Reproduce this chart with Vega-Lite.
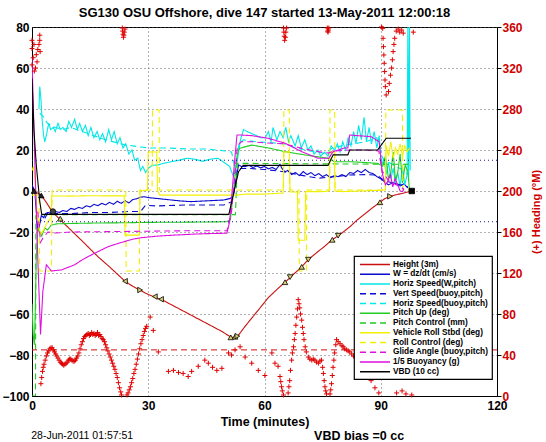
{
"$schema":"https://vega.github.io/schema/vega-lite/v6.json",
"width":465,"height":369,
"autosize":{"type":"none"},
"padding":{"left":32,"top":27,"right":49,"bottom":46},
"background":"white",
"title":{"text":"SG130 OSU Offshore, dive 147 started 13-May-2011 12:00:18","fontSize":13,"fontWeight":"bold","font":"Liberation Sans","color":"black","frame":"group","anchor":"middle","offset":1},
"datasets":{
"names":[
{"s":"h","name":"Height (3m)"},{"s":"w","name":"W = dz/dt (cm/s)"},{"s":"hs","name":"Horiz Speed(W,pitch)"},{"s":"vs","name":"Vert Speed(buoy,pitch)"},{"s":"hb","name":"Horiz Speed(buoy,pitch)"},{"s":"pu","name":"Pitch Up (deg)"},{"s":"pc","name":"Pitch Control (mm)"},{"s":"vr","name":"Vehicle Roll Stbd (deg)"},{"s":"rc","name":"Roll Control (deg)"},{"s":"ga","name":"Glide Angle (buoy,pitch)"},{"s":"bu","name":"1/5 Buoyancy (g)"},{"s":"vbd","name":"VBD (10 cc)"}],
"series":[
{"s":"h","t":0,"v":0},{"s":"h","t":1.5,"v":-1},{"s":"h","t":2.4,"v":-2.2},{"s":"h","t":3.5,"v":-5},{"s":"h","t":5.2,"v":-10},{"s":"h","t":7,"v":-13.5},{"s":"h","t":10,"v":-19},{"s":"h","t":13,"v":-24.5},{"s":"h","t":17,"v":-32},{"s":"h","t":20,"v":-37},{"s":"h","t":24,"v":-44},{"s":"h","t":26,"v":-46.5},{"s":"h","t":28,"v":-48.5},{"s":"h","t":30,"v":-50.5},{"s":"h","t":32,"v":-52},{"s":"h","t":34,"v":-53.5},{"s":"h","t":38,"v":-57.5},{"s":"h","t":42,"v":-61.5},{"s":"h","t":46,"v":-65.5},{"s":"h","t":49,"v":-68.5},{"s":"h","t":51.5,"v":-71.5},{"s":"h","t":53,"v":-71},{"s":"h","t":55,"v":-66},{"s":"h","t":58,"v":-59},{"s":"h","t":61,"v":-52},{"s":"h","t":63.5,"v":-47.5},{"s":"h","t":65.3,"v":-44.5},{"s":"h","t":67,"v":-41.5},{"s":"h","t":69.6,"v":-37},{"s":"h","t":71.3,"v":-33.5},{"s":"h","t":73.5,"v":-30},{"s":"h","t":75.5,"v":-27},{"s":"h","t":77.3,"v":-24},{"s":"h","t":79.3,"v":-21.5},{"s":"h","t":82,"v":-17.5},{"s":"h","t":84,"v":-14},{"s":"h","t":86,"v":-11},{"s":"h","t":88,"v":-8},{"s":"h","t":89.8,"v":-5.5},{"s":"h","t":91,"v":-3.8},{"s":"h","t":92.4,"v":-2.6},{"s":"h","t":94,"v":-1.8},{"s":"h","t":96,"v":-1},{"s":"h","t":98,"v":0},
{"s":"w","t":0,"v":3},{"s":"w","t":0.7,"v":0},{"s":"w","t":1.2,"v":-12},{"s":"w","t":1.5,"v":-20},{"s":"w","t":1.9,"v":-17},{"s":"w","t":2.4,"v":-12},{"s":"w","t":3,"v":-13},{"s":"w","t":3.5,"v":-11},{"s":"w","t":4.1,"v":-10.5},{"s":"w","t":5,"v":-11},{"s":"w","t":6,"v":-10},{"s":"w","t":7,"v":-10.5},{"s":"w","t":8,"v":-9.5},{"s":"w","t":9,"v":-10},{"s":"w","t":10,"v":-8.5},{"s":"w","t":11,"v":-9},{"s":"w","t":12,"v":-8},{"s":"w","t":13,"v":-8.5},{"s":"w","t":14,"v":-7.2},{"s":"w","t":15,"v":-7.8},{"s":"w","t":16,"v":-6.5},{"s":"w","t":17,"v":-7.2},{"s":"w","t":18,"v":-6},{"s":"w","t":19,"v":-6.8},{"s":"w","t":20,"v":-5.5},{"s":"w","t":21,"v":-6.5},{"s":"w","t":22,"v":-5},{"s":"w","t":23,"v":-6},{"s":"w","t":24,"v":-4.8},{"s":"w","t":25,"v":-5.8},{"s":"w","t":26,"v":-4.2},{"s":"w","t":27,"v":-3.8},{"s":"w","t":28,"v":-3},{"s":"w","t":29,"v":-2.8},{"s":"w","t":30,"v":-3.2},{"s":"w","t":32,"v":-3.6},{"s":"w","t":34,"v":-4},{"s":"w","t":36,"v":-4.4},{"s":"w","t":38,"v":-4.8},{"s":"w","t":41,"v":-5.2},{"s":"w","t":45,"v":-4.8},{"s":"w","t":49.5,"v":-4.4},{"s":"w","t":51.2,"v":-3.6},{"s":"w","t":52,"v":-2},{"s":"w","t":53.3,"v":12.7},{"s":"w","t":54,"v":12},{"s":"w","t":55,"v":11.9},{"s":"w","t":56,"v":12.5},{"s":"w","t":57,"v":11.5},{"s":"w","t":58,"v":12.2},{"s":"w","t":59,"v":11.3},{"s":"w","t":60,"v":12},{"s":"w","t":61,"v":10.8},{"s":"w","t":62,"v":11.5},{"s":"w","t":63,"v":10.5},{"s":"w","t":64,"v":13},{"s":"w","t":64.5,"v":11},{"s":"w","t":65.3,"v":9.4},{"s":"w","t":66,"v":10},{"s":"w","t":67,"v":8},{"s":"w","t":68,"v":9},{"s":"w","t":69,"v":7.5},{"s":"w","t":70,"v":9.5},{"s":"w","t":71,"v":8},{"s":"w","t":72,"v":9},{"s":"w","t":73,"v":7.5},{"s":"w","t":74,"v":8.5},{"s":"w","t":75,"v":7},{"s":"w","t":76,"v":8},{"s":"w","t":77,"v":6.5},{"s":"w","t":78,"v":7.5},{"s":"w","t":79,"v":7},{"s":"w","t":80,"v":8},{"s":"w","t":81,"v":7},{"s":"w","t":82,"v":9},{"s":"w","t":83,"v":8.5},{"s":"w","t":84,"v":10},{"s":"w","t":85,"v":9},{"s":"w","t":86,"v":10.5},{"s":"w","t":87,"v":9},{"s":"w","t":88,"v":8.5},{"s":"w","t":89,"v":7},{"s":"w","t":90,"v":6},{"s":"w","t":91,"v":4.5},{"s":"w","t":92,"v":3},{"s":"w","t":93,"v":4},{"s":"w","t":94,"v":3.5},{"s":"w","t":95,"v":2.5},{"s":"w","t":96,"v":3.5},{"s":"w","t":97,"v":1.5},
{"s":"hs","t":1.8,"v":40},{"s":"hs","t":2.0,"v":51},{"s":"hs","t":2.3,"v":45},{"s":"hs","t":2.6,"v":35},{"s":"hs","t":3,"v":27},{"s":"hs","t":3.3,"v":24},{"s":"hs","t":3.8,"v":28},{"s":"hs","t":4.3,"v":33},{"s":"hs","t":4.8,"v":30},{"s":"hs","t":5.5,"v":31},{"s":"hs","t":6,"v":29},{"s":"hs","t":6.7,"v":33},{"s":"hs","t":7.3,"v":30},{"s":"hs","t":8,"v":31},{"s":"hs","t":8.8,"v":29},{"s":"hs","t":9.5,"v":34},{"s":"hs","t":10.2,"v":31},{"s":"hs","t":11,"v":35},{"s":"hs","t":11.7,"v":30},{"s":"hs","t":12.3,"v":33},{"s":"hs","t":13,"v":29},{"s":"hs","t":13.8,"v":32},{"s":"hs","t":14.5,"v":27},{"s":"hs","t":15.2,"v":31},{"s":"hs","t":16,"v":26},{"s":"hs","t":16.8,"v":29},{"s":"hs","t":17.5,"v":25},{"s":"hs","t":18.2,"v":28},{"s":"hs","t":19,"v":24},{"s":"hs","t":19.8,"v":30},{"s":"hs","t":20.5,"v":25},{"s":"hs","t":21.2,"v":29},{"s":"hs","t":22,"v":23},{"s":"hs","t":22.7,"v":26},{"s":"hs","t":23.5,"v":21},{"s":"hs","t":24.2,"v":23},{"s":"hs","t":25,"v":18},{"s":"hs","t":25.8,"v":20},{"s":"hs","t":26.5,"v":15},{"s":"hs","t":27.3,"v":16},{"s":"hs","t":28,"v":10},{"s":"hs","t":28.6,"v":12},{"s":"hs","t":29.3,"v":9},{"s":"hs","t":30,"v":11},{"s":"hs","t":31,"v":12.5},{"s":"hs","t":32.5,"v":12.7},{"s":"hs","t":34,"v":13.5},{"s":"hs","t":36,"v":14.3},{"s":"hs","t":38,"v":15},{"s":"hs","t":40,"v":16},{"s":"hs","t":42,"v":15.5},{"s":"hs","t":44,"v":14.5},{"s":"hs","t":46,"v":15.5},{"s":"hs","t":48,"v":16},{"s":"hs","t":49.5,"v":14},{"s":"hs","t":51,"v":12},{"s":"hs","t":52,"v":7},{"s":"hs","t":53,"v":15},{"s":"hs","t":53.8,"v":25},{"s":"hs","t":54.6,"v":30},{"s":"hs","t":55.5,"v":29},{"s":"hs","t":56.7,"v":28},{"s":"hs","t":58,"v":27},{"s":"hs","t":59,"v":26},{"s":"hs","t":60.2,"v":26},{"s":"hs","t":61,"v":29},{"s":"hs","t":61.7,"v":24},{"s":"hs","t":62.2,"v":31},{"s":"hs","t":63.2,"v":25},{"s":"hs","t":64,"v":29},{"s":"hs","t":64.8,"v":26},{"s":"hs","t":65.5,"v":31},{"s":"hs","t":66.2,"v":24},{"s":"hs","t":66.8,"v":27},{"s":"hs","t":67.9,"v":22},{"s":"hs","t":68.7,"v":27},{"s":"hs","t":69.5,"v":21},{"s":"hs","t":70.4,"v":25},{"s":"hs","t":71.2,"v":20},{"s":"hs","t":72,"v":22},{"s":"hs","t":72.8,"v":18},{"s":"hs","t":73.8,"v":20},{"s":"hs","t":74.5,"v":17},{"s":"hs","t":75.5,"v":19},{"s":"hs","t":76.4,"v":17},{"s":"hs","t":77.2,"v":22},{"s":"hs","t":78.1,"v":20},{"s":"hs","t":78.8,"v":23},{"s":"hs","t":79.5,"v":19},{"s":"hs","t":80.2,"v":24},{"s":"hs","t":80.9,"v":20},{"s":"hs","t":81.6,"v":26},{"s":"hs","t":82.3,"v":22},{"s":"hs","t":83,"v":29},{"s":"hs","t":83.6,"v":23},{"s":"hs","t":84.3,"v":32},{"s":"hs","t":85,"v":25},{"s":"hs","t":85.7,"v":36},{"s":"hs","t":86.3,"v":24},{"s":"hs","t":87,"v":31},{"s":"hs","t":87.6,"v":23},{"s":"hs","t":88.3,"v":29},{"s":"hs","t":89,"v":21},{"s":"hs","t":89.6,"v":27},{"s":"hs","t":90.2,"v":12},{"s":"hs","t":90.8,"v":16},{"s":"hs","t":91.4,"v":8},{"s":"hs","t":92,"v":14},{"s":"hs","t":92.6,"v":6},{"s":"hs","t":93.2,"v":11},{"s":"hs","t":93.8,"v":4},{"s":"hs","t":94.4,"v":9},{"s":"hs","t":95,"v":2},{"s":"hs","t":95.6,"v":12},{"s":"hs","t":96.2,"v":3},{"s":"hs","t":96.8,"v":8},{"s":"hs","t":97.0,"v":80},{"s":"hs","t":97.2,"v":5},{"s":"hs","t":97.4,"v":80},{"s":"hs","t":97.6,"v":10},
{"s":"vs","t":1.5,"v":-16.6},{"s":"vs","t":2.5,"v":-14},{"s":"vs","t":3.3,"v":-13.3},{"s":"vs","t":4,"v":-11},{"s":"vs","t":6,"v":-11},{"s":"vs","t":10,"v":-11},{"s":"vs","t":15,"v":-10.5},{"s":"vs","t":20,"v":-10.5},{"s":"vs","t":25,"v":-10},{"s":"vs","t":28,"v":-10},{"s":"vs","t":29.3,"v":-7},{"s":"vs","t":32,"v":-7.3},{"s":"vs","t":40,"v":-6.8},{"s":"vs","t":49.5,"v":-6.8},{"s":"vs","t":51.6,"v":-5.2},{"s":"vs","t":53,"v":11},{"s":"vs","t":56,"v":11},{"s":"vs","t":60,"v":10.5},{"s":"vs","t":65,"v":9.4},{"s":"vs","t":70,"v":7.5},{"s":"vs","t":73.8,"v":6.2},{"s":"vs","t":78,"v":7},{"s":"vs","t":82,"v":7.8},{"s":"vs","t":86,"v":8},{"s":"vs","t":89,"v":7.8},{"s":"vs","t":91,"v":5},{"s":"vs","t":93,"v":4},{"s":"vs","t":95,"v":3},{"s":"vs","t":97,"v":2},
{"s":"hb","t":2,"v":38},{"s":"hb","t":3,"v":36},{"s":"hb","t":4,"v":33},{"s":"hb","t":5,"v":32},{"s":"hb","t":6,"v":31},{"s":"hb","t":8,"v":30},{"s":"hb","t":10,"v":31},{"s":"hb","t":13,"v":29},{"s":"hb","t":16,"v":27},{"s":"hb","t":19,"v":25},{"s":"hb","t":22,"v":23.5},{"s":"hb","t":24,"v":22.5},{"s":"hb","t":26,"v":22},{"s":"hb","t":28,"v":21.5},{"s":"hb","t":30,"v":21},{"s":"hb","t":35,"v":21},{"s":"hb","t":40,"v":20.5},{"s":"hb","t":45,"v":20.5},{"s":"hb","t":50,"v":19.5},{"s":"hb","t":51.5,"v":19},{"s":"hb","t":52.5,"v":10},{"s":"hb","t":53.3,"v":22},{"s":"hb","t":54.5,"v":25},{"s":"hb","t":56,"v":24.5},{"s":"hb","t":58,"v":24},{"s":"hb","t":62,"v":23.5},{"s":"hb","t":65,"v":23},{"s":"hb","t":68,"v":21},{"s":"hb","t":70.5,"v":20},{"s":"hb","t":73,"v":19},{"s":"hb","t":75.6,"v":18.4},{"s":"hb","t":77.5,"v":21},{"s":"hb","t":80,"v":22},{"s":"hb","t":83,"v":23},{"s":"hb","t":86,"v":24},{"s":"hb","t":89,"v":26},{"s":"hb","t":90.5,"v":16},{"s":"hb","t":92,"v":14},{"s":"hb","t":94,"v":12},{"s":"hb","t":96,"v":10},{"s":"hb","t":97,"v":8},
{"s":"pu","t":0,"v":-55},{"s":"pu","t":0.3,"v":-70},{"s":"pu","t":0.6,"v":-75},{"s":"pu","t":0.8,"v":-62},{"s":"pu","t":1.1,"v":-33},{"s":"pu","t":1.5,"v":-18},{"s":"pu","t":2,"v":-20},{"s":"pu","t":2.5,"v":-22},{"s":"pu","t":3.3,"v":-18},{"s":"pu","t":4,"v":-19},{"s":"pu","t":5,"v":-16.6},{"s":"pu","t":6.5,"v":-16},{"s":"pu","t":11,"v":-15.8},{"s":"pu","t":17,"v":-15.6},{"s":"pu","t":23.8,"v":-15.5},{"s":"pu","t":30,"v":-15.3},{"s":"pu","t":40,"v":-15.2},{"s":"pu","t":50.3,"v":-15},{"s":"pu","t":51.2,"v":-14},{"s":"pu","t":53,"v":18},{"s":"pu","t":53.5,"v":20.8},{"s":"pu","t":56.7,"v":22.4},{"s":"pu","t":61,"v":21},{"s":"pu","t":65.3,"v":19.2},{"s":"pu","t":70.4,"v":17.6},{"s":"pu","t":76.4,"v":16},{"s":"pu","t":78,"v":14.3},{"s":"pu","t":82,"v":14.3},{"s":"pu","t":85,"v":14},{"s":"pu","t":89.2,"v":13.5},{"s":"pu","t":90.5,"v":12},{"s":"pu","t":91.2,"v":17},{"s":"pu","t":92,"v":6},{"s":"pu","t":92.6,"v":9},{"s":"pu","t":93.2,"v":19},{"s":"pu","t":93.8,"v":5},{"s":"pu","t":94.4,"v":9.4},{"s":"pu","t":95,"v":18},{"s":"pu","t":95.6,"v":4},{"s":"pu","t":96.3,"v":12.7},{"s":"pu","t":97,"v":9.4},{"s":"pu","t":97.5,"v":-1.5},
{"s":"pc","t":0,"v":-100},{"s":"pc","t":0.9,"v":-100},{"s":"pc","t":1.0,"v":-12},{"s":"pc","t":3,"v":-11.5},{"s":"pc","t":51,"v":-11.5},{"s":"pc","t":52.5,"v":-11.5},{"s":"pc","t":53,"v":13.5},{"s":"pc","t":97.5,"v":13},
{"s":"vr","t":0,"v":10},{"s":"vr","t":0.4,"v":12},{"s":"vr","t":0.8,"v":5},{"s":"vr","t":1.3,"v":-10},{"s":"vr","t":1.8,"v":-18},{"s":"vr","t":2.3,"v":-21},{"s":"vr","t":3,"v":-19},{"s":"vr","t":4,"v":-15},{"s":"vr","t":5,"v":-13},{"s":"vr","t":5.1,"v":-2.4},{"s":"vr","t":10,"v":-2.5},{"s":"vr","t":15,"v":-2.3},{"s":"vr","t":20,"v":-2.4},{"s":"vr","t":23.8,"v":-2.4},{"s":"vr","t":24,"v":-21.5},{"s":"vr","t":27.7,"v":-21.5},{"s":"vr","t":27.9,"v":0},{"s":"vr","t":29.8,"v":0.5},{"s":"vr","t":30,"v":19},{"s":"vr","t":32.2,"v":19},{"s":"vr","t":32.4,"v":0},{"s":"vr","t":33,"v":-2},{"s":"vr","t":40,"v":-2},{"s":"vr","t":45,"v":-2},{"s":"vr","t":53,"v":-2},{"s":"vr","t":55,"v":-1.5},{"s":"vr","t":60,"v":-1.5},{"s":"vr","t":64.8,"v":-1},{"s":"vr","t":65,"v":19},{"s":"vr","t":66.4,"v":19},{"s":"vr","t":66.6,"v":-0.5},{"s":"vr","t":68.5,"v":-0.5},{"s":"vr","t":68.7,"v":-24},{"s":"vr","t":70.4,"v":-24},{"s":"vr","t":70.6,"v":-0.3},{"s":"vr","t":75,"v":-0.3},{"s":"vr","t":76.7,"v":0},{"s":"vr","t":76.9,"v":19},{"s":"vr","t":78,"v":19},{"s":"vr","t":78.2,"v":0},{"s":"vr","t":80,"v":-0.3},{"s":"vr","t":85,"v":0},{"s":"vr","t":91.2,"v":0.5},{"s":"vr","t":91.4,"v":22},{"s":"vr","t":92,"v":17},{"s":"vr","t":92.6,"v":24},{"s":"vr","t":93.2,"v":16},{"s":"vr","t":93.8,"v":21},{"s":"vr","t":94.4,"v":18},{"s":"vr","t":95,"v":23},{"s":"vr","t":95.6,"v":17},{"s":"vr","t":96.2,"v":22},{"s":"vr","t":96.8,"v":19},{"s":"vr","t":97.4,"v":21},
{"s":"rc","t":0,"v":-2},{"s":"rc","t":1.8,"v":-2},{"s":"rc","t":2,"v":-39},{"s":"rc","t":5,"v":-39},{"s":"rc","t":5.2,"v":0.5},{"s":"rc","t":24.2,"v":0.5},{"s":"rc","t":24.3,"v":-39},{"s":"rc","t":27.7,"v":-39},{"s":"rc","t":27.8,"v":0.5},{"s":"rc","t":31,"v":0.5},{"s":"rc","t":31.1,"v":39.5},{"s":"rc","t":32.8,"v":39.5},{"s":"rc","t":32.9,"v":0.5},{"s":"rc","t":53,"v":0.5},{"s":"rc","t":64.9,"v":0.5},{"s":"rc","t":65,"v":39.5},{"s":"rc","t":66.4,"v":39.5},{"s":"rc","t":66.5,"v":0.5},{"s":"rc","t":68.9,"v":0.5},{"s":"rc","t":69,"v":-39},{"s":"rc","t":70.8,"v":-39},{"s":"rc","t":70.9,"v":0.5},{"s":"rc","t":76.8,"v":0.5},{"s":"rc","t":76.9,"v":39.5},{"s":"rc","t":78.1,"v":39.5},{"s":"rc","t":78.2,"v":0.5},{"s":"rc","t":91.2,"v":0.5},{"s":"rc","t":91.3,"v":39.5},{"s":"rc","t":95.6,"v":39.5},{"s":"rc","t":95.7,"v":0.5},{"s":"rc","t":97.5,"v":0.5},
{"s":"ga","t":1.5,"v":-10},{"s":"ga","t":2.2,"v":-25},{"s":"ga","t":2.8,"v":-23},{"s":"ga","t":4.1,"v":-20},{"s":"ga","t":6,"v":-20.5},{"s":"ga","t":10,"v":-20},{"s":"ga","t":20,"v":-19.8},{"s":"ga","t":30,"v":-19.6},{"s":"ga","t":40,"v":-19.4},{"s":"ga","t":50.3,"v":-19.4},{"s":"ga","t":51.5,"v":-10},{"s":"ga","t":53,"v":22},{"s":"ga","t":54,"v":24},{"s":"ga","t":56.7,"v":24},{"s":"ga","t":60,"v":23.5},{"s":"ga","t":65.3,"v":23},{"s":"ga","t":69.6,"v":20.8},{"s":"ga","t":73.8,"v":19.2},{"s":"ga","t":76.5,"v":18.5},{"s":"ga","t":78,"v":19.5},{"s":"ga","t":82,"v":20},{"s":"ga","t":86,"v":20},{"s":"ga","t":89.5,"v":19.5},{"s":"ga","t":90.3,"v":10},{"s":"ga","t":92,"v":5},{"s":"ga","t":94,"v":3},{"s":"ga","t":96,"v":1},
{"s":"bu","t":0,"v":65},{"s":"bu","t":0.7,"v":16},{"s":"bu","t":1.5,"v":-33},{"s":"bu","t":2.2,"v":-70},{"s":"bu","t":2.8,"v":-49},{"s":"bu","t":3.7,"v":-36},{"s":"bu","t":5,"v":-39},{"s":"bu","t":7.6,"v":-38.5},{"s":"bu","t":11,"v":-36},{"s":"bu","t":13,"v":-33.5},{"s":"bu","t":15.3,"v":-31.2},{"s":"bu","t":17,"v":-29.6},{"s":"bu","t":19.6,"v":-27.2},{"s":"bu","t":21.5,"v":-26},{"s":"bu","t":23.8,"v":-24.7},{"s":"bu","t":26,"v":-23.5},{"s":"bu","t":28.1,"v":-22.8},{"s":"bu","t":32.4,"v":-22},{"s":"bu","t":36,"v":-21.6},{"s":"bu","t":41,"v":-21.1},{"s":"bu","t":45,"v":-20.8},{"s":"bu","t":50.3,"v":-20.6},{"s":"bu","t":51,"v":-15},{"s":"bu","t":52.3,"v":15},{"s":"bu","t":52.9,"v":27.3},{"s":"bu","t":54,"v":27.3},{"s":"bu","t":56.7,"v":27},{"s":"bu","t":61,"v":25.7},{"s":"bu","t":65.3,"v":23.3},{"s":"bu","t":69.6,"v":19.2},{"s":"bu","t":73.8,"v":16},{"s":"bu","t":76.6,"v":16},{"s":"bu","t":77.7,"v":19.2},{"s":"bu","t":80.7,"v":21},{"s":"bu","t":81.5,"v":21},{"s":"bu","t":82,"v":27.3},{"s":"bu","t":87.5,"v":26.5},{"s":"bu","t":89.6,"v":24},{"s":"bu","t":90.2,"v":12},{"s":"bu","t":90.5,"v":7.8},{"s":"bu","t":91.2,"v":3},{"s":"bu","t":91.8,"v":4.6},{"s":"bu","t":92.5,"v":8},{"s":"bu","t":93.1,"v":2},{"s":"bu","t":93.7,"v":6},{"s":"bu","t":94.4,"v":3},{"s":"bu","t":95,"v":0},{"s":"bu","t":95.6,"v":-0.3},{"s":"bu","t":96,"v":1},
{"s":"vbd","t":0,"v":55},{"s":"vbd","t":0.5,"v":30},{"s":"vbd","t":1.1,"v":12.7},{"s":"vbd","t":2,"v":-5},{"s":"vbd","t":2.5,"v":-11.4},{"s":"vbd","t":50.8,"v":-11.4},{"s":"vbd","t":53.3,"v":9.4},{"s":"vbd","t":54.5,"v":12.5},{"s":"vbd","t":76.4,"v":12.5},{"s":"vbd","t":77.7,"v":17.6},{"s":"vbd","t":81.5,"v":17.6},{"s":"vbd","t":82,"v":20},{"s":"vbd","t":89.2,"v":20},{"s":"vbd","t":91.4,"v":25.7},{"s":"vbd","t":97.8,"v":25.7}
],
"marks":[
{"t":0.5,"v":0,"k":"start"},{"t":2.4,"v":-2.2,"k":"start"},{"t":5.4,"v":-10,"k":"circle"},{"t":7.3,"v":-13.5,"k":"up"},{"t":24,"v":-44,"k":"left"},{"t":27.9,"v":-48.3,"k":"right"},{"t":31.7,"v":-51.5,"k":"left"},{"t":33.3,"v":-52.8,"k":"left"},{"t":51.3,"v":-71.4,"k":"up"},{"t":52.4,"v":-71.1,"k":"up"},{"t":53,"v":-70.8,"k":"right"},{"t":65.3,"v":-44.5,"k":"up"},{"t":66.6,"v":-42,"k":"down"},{"t":69.6,"v":-37,"k":"up"},{"t":71.3,"v":-33.5,"k":"down"},{"t":77.5,"v":-23.8,"k":"up"},{"t":79,"v":-21.8,"k":"down"},{"t":89.8,"v":-5.5,"k":"up"},{"t":92.4,"v":-2.6,"k":"right"},{"t":98,"v":0,"k":"end"}
],
"heading":[
{"t":0,"h":347},{"t":2,"h":352},{"t":2,"h":347},{"t":0.3,"h":330},{"t":0,"h":323},{"t":1.1,"h":333},{"t":1.5,"h":338},{"t":2.1,"h":336},{"t":0.9,"h":320},{"t":0.6,"h":317},{"t":0,"h":339},{"t":0.5,"h":343},{"t":1.3,"h":326},{"t":1.8,"h":343},
{"t":2.3,"h":12},{"t":2.5,"h":18},{"t":2.7,"h":24},{"t":2.9,"h":28},{"t":3.1,"h":31},{"t":3.4,"h":35},{"t":3.7,"h":39},{"t":4.0,"h":42},{"t":4.3,"h":44},{"t":4.6,"h":46},{"t":4.9,"h":47},{"t":5.2,"h":47},{"t":5.5,"h":45},{"t":5.8,"h":43},{"t":6.1,"h":41},{"t":6.4,"h":39},{"t":6.7,"h":37},{"t":7.0,"h":35},{"t":7.3,"h":33},{"t":7.6,"h":32},{"t":7.9,"h":31},{"t":8.2,"h":30},{"t":8.5,"h":31},{"t":8.8,"h":32},{"t":9.1,"h":33},{"t":9.4,"h":35},{"t":9.7,"h":36},{"t":10.0,"h":36},{"t":10.3,"h":35},{"t":10.6,"h":34},{"t":10.9,"h":34},{"t":11.2,"h":35},{"t":11.5,"h":37},{"t":11.8,"h":39},{"t":12.1,"h":42},{"t":12.4,"h":46},{"t":12.7,"h":50},{"t":13.0,"h":53},{"t":13.3,"h":56},{"t":13.6,"h":58},{"t":13.9,"h":59},{"t":14.2,"h":60},{"t":14.5,"h":61},{"t":14.8,"h":59},{"t":15.1,"h":60},{"t":15.4,"h":62},{"t":15.7,"h":60},{"t":16.0,"h":61},{"t":16.3,"h":59},{"t":16.6,"h":60},{"t":16.9,"h":62},{"t":17.2,"h":59},{"t":17.5,"h":60},{"t":17.8,"h":58},{"t":18.1,"h":56},{"t":18.4,"h":55},{"t":18.7,"h":53},{"t":19.0,"h":50},{"t":19.3,"h":47},{"t":19.6,"h":44},{"t":19.9,"h":41},{"t":20.2,"h":38},{"t":20.5,"h":35},{"t":20.8,"h":32},{"t":21.1,"h":29},{"t":21.4,"h":26},{"t":21.7,"h":22},{"t":22.0,"h":18},{"t":22.3,"h":13},{"t":22.6,"h":8},{"t":22.9,"h":4},{"t":23.1,"h":1},
{"t":23.3,"h":359},{"t":23.4,"h":356},{"t":23.5,"h":353},{"t":23.6,"h":350},{"t":23.7,"h":352},{"t":23.8,"h":355},{"t":24.0,"h":358},
{"t":24.5,"h":1},{"t":24.8,"h":3},{"t":25.1,"h":6},{"t":25.4,"h":9},{"t":25.7,"h":13},{"t":26.0,"h":17},{"t":26.3,"h":22},{"t":26.6,"h":26},{"t":26.9,"h":31},{"t":27.2,"h":36},{"t":27.5,"h":41},{"t":27.8,"h":46},{"t":28.1,"h":51},{"t":28.4,"h":55},{"t":28.7,"h":59},{"t":29.0,"h":63},{"t":29.3,"h":66},{"t":29.6,"h":68},{"t":30.5,"h":77},{"t":31.3,"h":64},{"t":32.6,"h":43},
{"t":35.2,"h":24},{"t":36.5,"h":25},{"t":37.8,"h":23},{"t":39,"h":22},{"t":40.3,"h":19},{"t":41.2,"h":24},{"t":42.9,"h":29},{"t":44.6,"h":35},{"t":45.5,"h":32},{"t":46.6,"h":28},{"t":47.7,"h":25},{"t":49,"h":27},{"t":50.7,"h":42},{"t":51.5,"h":40},{"t":52.4,"h":45},{"t":53.7,"h":48},{"t":55,"h":38},{"t":56.7,"h":32},{"t":58.4,"h":25},{"t":60.1,"h":20},{"t":61.9,"h":42},{"t":62.7,"h":32},{"t":63.5,"h":29},{"t":64,"h":19},{"t":64.2,"h":14},{"t":64.4,"h":9},{"t":64.6,"h":5},{"t":64.9,"h":1},
{"t":64.9,"h":359},{"t":65.0,"h":355},{"t":65.1,"h":351},{"t":65.2,"h":347},{"t":65.4,"h":350},{"t":65.5,"h":355},{"t":65.7,"h":359},
{"t":66.1,"h":3},{"t":66.3,"h":9},{"t":66.5,"h":15},{"t":66.7,"h":25},{"t":67,"h":35},{"t":67.2,"h":42},{"t":67.5,"h":48},{"t":67.7,"h":55},{"t":67.9,"h":61},{"t":68.1,"h":69},{"t":68.3,"h":77},{"t":68.5,"h":85},{"t":68.7,"h":94},{"t":68.9,"h":90},{"t":69.1,"h":86},{"t":69.3,"h":80},{"t":69.6,"h":74},{"t":69.8,"h":67},{"t":70,"h":61},{"t":70.2,"h":55},{"t":70.5,"h":48},{"t":70.8,"h":43},{"t":71.3,"h":38},{"t":71.7,"h":36},{"t":72.2,"h":35},{"t":72.6,"h":36},{"t":73,"h":35},{"t":73.4,"h":33},{"t":73.9,"h":32},{"t":74.3,"h":34},{"t":74.7,"h":35},{"t":75,"h":28},{"t":75.2,"h":22},{"t":75.4,"h":15},{"t":75.6,"h":9},{"t":75.8,"h":5},{"t":76,"h":2},
{"t":76.2,"h":359},{"t":76.3,"h":356},{"t":76.4,"h":355},{"t":76.5,"h":357},{"t":76.6,"h":359},
{"t":76.9,"h":2},{"t":77.1,"h":6},{"t":77.3,"h":12},{"t":77.5,"h":20},{"t":77.7,"h":28},{"t":77.9,"h":35},{"t":78.1,"h":42},{"t":78.4,"h":50},{"t":78.6,"h":55},{"t":79,"h":53},{"t":79.5,"h":51},{"t":80,"h":49},{"t":80.3,"h":48},{"t":80.7,"h":46},{"t":81.2,"h":45},{"t":81.6,"h":44},{"t":82,"h":43},{"t":82.5,"h":41},{"t":83,"h":39},{"t":83.4,"h":38},
{"t":84.5,"h":34},{"t":85.5,"h":28},{"t":86.5,"h":22},{"t":87.5,"h":15},{"t":88.5,"h":8},{"t":89.5,"h":3},
{"t":90.2,"h":360},{"t":90.5,"h":358.7},{"t":90.6,"h":349},{"t":90.7,"h":340.8},{"t":90.8,"h":332.7},{"t":90.9,"h":324.6},{"t":91,"h":316.5},{"t":91.1,"h":308.3},{"t":91.2,"h":301.8},{"t":91.4,"h":293.7},{"t":92,"h":297},{"t":92.2,"h":305},{"t":92.5,"h":313},{"t":92.8,"h":320},{"t":93,"h":328},{"t":93.2,"h":336},{"t":93.4,"h":343},{"t":93.6,"h":349},{"t":94,"h":356},{"t":94.5,"h":358},{"t":94.9,"h":355},{"t":95.4,"h":357},{"t":95.8,"h":354},{"t":98.4,"h":355},
{"t":94.1,"h":3},{"t":95.5,"h":5},{"t":96.5,"h":2},{"t":98,"h":1}
]
},
"layer":[
{"layer":[
 {"data":{"name":"series"},
  "transform":[{"lookup":"s","from":{"data":{"name":"names"},"key":"s","fields":["name"]}}],
  "mark":{"type":"line","strokeWidth":1.1,"clip":true},
  "encoding":{
   "x":{"field":"t","type":"quantitative","scale":{"domain":[0,120],"nice":false,"zero":false},
        "axis":{"values":[0,30,60,90,120],"title":"Time (minutes)","grid":true,"ticks":false,"labelPadding":4,"labelFlush":false,"titlePadding":4}},
   "y":{"field":"v","type":"quantitative","scale":{"domain":[-100,80],"nice":false,"zero":false},
        "axis":{"values":[-100,-90,-80,-70,-60,-50,-40,-30,-20,-10,0,10,20,30,40,50,60,70,80],"title":null,"grid":true,"ticks":false,"labelPadding":3,"labelFlush":false}},
   "color":{"field":"name","type":"nominal",
     "scale":{"domain":["Height (3m)","W = dz/dt (cm/s)","Horiz Speed(W,pitch)","Vert Speed(buoy,pitch)","Horiz Speed(buoy,pitch)","Pitch Up (deg)","Pitch Control (mm)","Vehicle Roll Stbd (deg)","Roll Control (deg)","Glide Angle (buoy,pitch)","1/5 Buoyancy (g)","VBD (10 cc)"],
              "range":["#c81010","#0a0ad0","#00e8e8","#0a0ad0","#00e8e8","#22cc22","#22cc22","#f0f000","#f0f000","#e010e0","#e010e0","#000000"]},
     "legend":{"orient":"none","legendX":322,"legendY":229,"title":null}},
   "strokeDash":{"field":"name","type":"nominal",
     "scale":{"domain":["Height (3m)","W = dz/dt (cm/s)","Horiz Speed(W,pitch)","Vert Speed(buoy,pitch)","Horiz Speed(buoy,pitch)","Pitch Up (deg)","Pitch Control (mm)","Vehicle Roll Stbd (deg)","Roll Control (deg)","Glide Angle (buoy,pitch)","1/5 Buoyancy (g)","VBD (10 cc)"],
              "range":[[1,0],[1,0],[1,0],[6,4],[6,4],[1,0],[6,4],[1,0],[6,4],[6,4],[1,0],[1,0]]},
     "legend":{"orient":"none","legendX":322,"legendY":229,"title":null}}
  }},
 {"data":{"values":[{}]},"mark":{"type":"rule","color":"#1a1a9a","strokeDash":[1,3],"strokeWidth":1},"encoding":{"y":{"datum":15}}},
 {"data":{"values":[{}]},"mark":{"type":"rule","color":"#1a1a9a","strokeDash":[1,3],"strokeWidth":1},"encoding":{"y":{"datum":-15}}},
 {"data":{"name":"marks"},
  "mark":{"type":"point","filled":true,"stroke":"black","strokeWidth":0.8,"size":30,"opacity":1},
  "encoding":{
   "x":{"field":"t","type":"quantitative"},
   "y":{"field":"v","type":"quantitative"},
   "shape":{"field":"k","type":"nominal","scale":{"domain":["start","circle","up","down","left","right","end"],"range":["triangle-up","circle","triangle-up","triangle-down","triangle-left","triangle-right","square"]},"legend":null},
   "fill":{"field":"k","type":"nominal","scale":{"domain":["start","circle","up","down","left","right","end"],"range":["#222222","#444444","#d8cf70","#d8cf70","#d8cf70","#d8cf70","#000000"]},"legend":null}
  }},
 {"data":{"values":[{}]},"mark":{"type":"text","text":"28-Jun-2011 01:57:51","align":"left","baseline":"middle","fontSize":10.5,"font":"Liberation Sans","color":"black"},
  "encoding":{"x":{"datum":-0.2},"y":{"datum":-119.5}}},
 {"data":{"values":[{}]},"mark":{"type":"text","text":"VBD bias =0 cc","align":"left","baseline":"middle","fontSize":12.5,"fontWeight":"bold","font":"Liberation Sans","color":"black"},
  "encoding":{"x":{"datum":72.8},"y":{"datum":-119.5}}}
]},
{"layer":[
 {"data":{"values":[{}]},"mark":{"type":"rule","color":"#d01010","strokeDash":[6,4],"strokeWidth":1},"encoding":{"y":{"datum":45,"type":"quantitative","scale":{"domain":[0,360],"nice":false,"zero":false}}}},
 {"data":{"name":"heading"},
  "mark":{"type":"point","shape":"M-1,0H1M0,-1V1","filled":false,"color":"#e00000","strokeWidth":1,"size":25,"opacity":1},
  "encoding":{
   "x":{"field":"t","type":"quantitative"},
   "y":{"field":"h","type":"quantitative","scale":{"domain":[0,360],"nice":false,"zero":false},
        "axis":{"orient":"right","values":[0,20,40,60,80,100,120,140,160,180,200,220,240,260,280,300,320,340,360],"title":"(+) Heading (°M)","titleAngle":270,"titleColor":"#d00000","titleFontSize":11,"titlePadding":19,"labelColor":"#d00000","grid":false,"tickSize":4,"labelPadding":1,"labelFlush":false}}
  }}
]}
],
"resolve":{"scale":{"y":"independent"}},
"config":{
 "font":"Liberation Sans",
 "view":{"stroke":"black","strokeWidth":1},
 "axis":{"domainColor":"black","domainWidth":1,"tickColor":"black","labelColor":"black","labelFont":"Liberation Sans","labelFontSize":12,"labelFontWeight":"bold","gridColor":"#555555","gridDash":[1,3],"gridOpacity":0.9,"gridWidth":1,"titleFont":"Liberation Sans","titleFontWeight":"bold","titleFontSize":12.5,"titleColor":"black"},
 "legend":{"fillColor":"white","strokeColor":"black","strokeWidth":1.2,"padding":3,"symbolType":"M-3.333,0H3.333","symbolSize":81,"symbolOffset":12.5,"symbolStrokeWidth":1.5,"labelFontSize":8.3,"labelFontWeight":"bold","labelFont":"Liberation Sans","labelColor":"black","labelOffset":12.5,"rowPadding":0.75}
}
}
